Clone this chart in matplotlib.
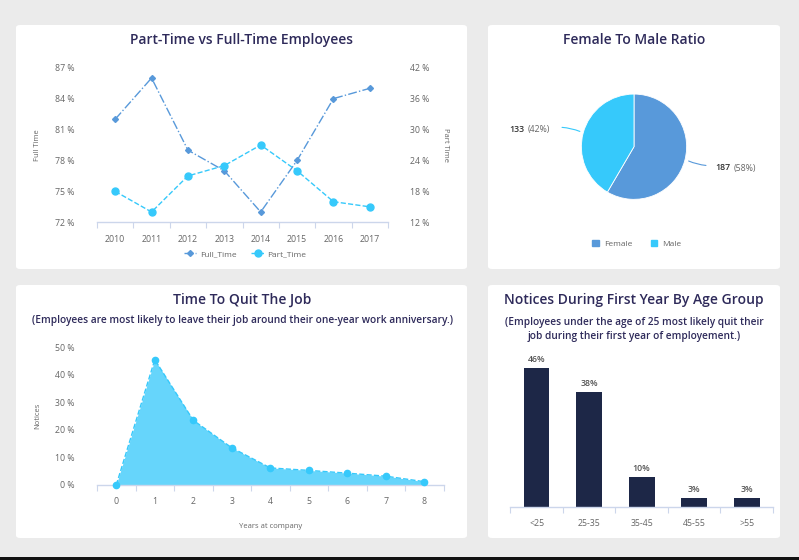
import matplotlib
matplotlib.use("Agg")
import matplotlib.pyplot as plt
from matplotlib.patches import FancyBboxPatch, Rectangle
from matplotlib.lines import Line2D
from matplotlib.ticker import FixedLocator, FuncFormatter
import numpy as np

# %% data
years = ["2010", "2011", "2012", "2013", "2014", "2015", "2016", "2017"]
full_time = [82, 86, 79, 77, 73, 78, 84, 85]
part_time = [18, 14, 21, 23, 27, 22, 16, 15]

gender_labels = ["Female", "Male"]
gender_counts = [187, 133]

quit_years = [0, 1, 2, 3, 4, 5, 6, 7, 8]
quit_notices = [0, 45.5, 23.5, 13.5, 6.2, 5.3, 4.3, 3.2, 1.2]

age_groups = ["<25", "25-35", "35-45", "45-55", ">55"]
age_notices = [46, 38, 10, 3, 3]

# %% style
W, H = 799, 560
BG = "#ebebeb"
TITLE = "#2e2a5a"
TICK = "#666666"
AXLINE = "#ccd6eb"
BLUE = "#5899da"
CYAN = "#36c9fb"
AREA = "#66d5fb"
NAVY = "#1d2747"

plt.rcParams["font.family"] = ["Open Sans", "DejaVu Sans"]


def fx(px):
    return px / W


def fy(py):
    return 1 - py / H


def box(ax_px):
    l, t, r, b = ax_px
    return [fx(l), fy(b), (r - l) / W, (b - t) / H]


fig = plt.figure(figsize=(W / 100, H / 100), dpi=100, facecolor=BG)

# panels, kept behind the axes
for l, t, r, b in [(16, 25, 467, 269), (488, 25, 780, 269),
                   (16, 285, 467, 538), (488, 285, 780, 538)]:
    fig.patches.append(FancyBboxPatch((fx(l), fy(b)), (r - l) / W, (b - t) / H,
                                      boxstyle="round,pad=0,rounding_size=0.005",
                                      transform=fig.transFigure, facecolor="white",
                                      edgecolor="none", zorder=-10))
fig.patches.append(Rectangle((0, 0), 1, 3 / H, transform=fig.transFigure,
                             facecolor="#111111", edgecolor="none", zorder=-10))


def cat_axis(ax, n, labels):
    ax.set_xlim(-0.5, n - 0.5)
    ax.set_xticks(range(n))
    ax.set_xticklabels(labels)
    ax.xaxis.set_minor_locator(FixedLocator(np.arange(-0.5, n, 1.0)))
    ax.tick_params(axis="x", which="major", length=0, pad=9, labelsize=6.3, labelcolor=TICK)
    ax.tick_params(axis="x", which="minor", length=4, width=0.8, color=AXLINE)
    for s in ["top", "right", "left"]:
        ax.spines[s].set_visible(False)
    ax.spines["bottom"].set_color(AXLINE)
    ax.spines["bottom"].set_linewidth(1)
    ax.set_facecolor("none")


def title(x, y, s, size=10):
    fig.text(fx(x), fy(y), s, ha="center", va="center", fontsize=size,
             color=TITLE, fontweight="semibold")


pct = FuncFormatter(lambda v, p: f"{v:.0f} %")

# %% Part-time vs full-time
ax1 = fig.add_axes(box((97, 67.7, 388, 222.3)))
cat_axis(ax1, len(years), years)
x = np.arange(len(years))
ax1.plot(x, full_time, color=BLUE, ls="-.", lw=1, marker="D", ms=3, zorder=3)
ax1.set_ylim(72, 87)
ax1.set_yticks(range(72, 88, 3))
ax1.yaxis.set_major_formatter(pct)
ax1.tick_params(axis="y", length=0, pad=16, labelsize=6.3, labelcolor=TICK)
ax1.set_ylabel("Full Time", fontsize=5.5, color=TICK, labelpad=10)

ax1b = ax1.twinx()
ax1b.plot(x, part_time, color=CYAN, ls="--", lw=1, marker="o", ms=5, zorder=3)
ax1b.set_ylim(12, 42)
ax1b.set_yticks(range(12, 43, 6))
ax1b.yaxis.set_major_formatter(pct)
ax1b.tick_params(axis="y", length=0, pad=16, labelsize=6.3, labelcolor=TICK)
for s in ["top", "right", "left", "bottom"]:
    ax1b.spines[s].set_visible(False)
ax1b.set_ylabel("Part Time", fontsize=5.5, color=TICK, rotation=270, labelpad=14)

title(242, 40, "Part-Time vs Full-Time Employees")
h1 = [Line2D([], [], color=BLUE, ls="-.", lw=1, marker="D", ms=3),
      Line2D([], [], color=CYAN, ls="--", lw=1, marker="o", ms=5)]
fig.legend(h1, ["Full_Time", "Part_Time"], loc="center", ncol=2, frameon=False,
           bbox_to_anchor=(fx(245), fy(254)), fontsize=6, labelcolor=TICK,
           handlelength=1.5, handletextpad=0.4, columnspacing=1.8)

# %% Female to male ratio
axp = fig.add_axes(box((534, 46.7, 734, 246.7)))
axp.pie(gender_counts, colors=[BLUE, CYAN], startangle=90,
        counterclock=False, radius=1,
        wedgeprops=dict(edgecolor="white", linewidth=0.6))
axp.set_xlim(-1.9, 1.9)
axp.set_ylim(-1.9, 1.9)
axp.set_aspect("equal")
axp.axis("off")
total = sum(gender_counts)
axp.annotate("", xy=(0.99, -0.25), xytext=(1.42, -0.36),
             arrowprops=dict(arrowstyle="-", color=BLUE, lw=0.8,
                             connectionstyle="arc3,rad=-0.1"))
axp.annotate("", xy=(-0.98, 0.27), xytext=(-1.42, 0.37),
             arrowprops=dict(arrowstyle="-", color=CYAN, lw=0.8,
                             connectionstyle="arc3,rad=-0.1"))
# "count (share)" labels: count dark, share grey
t_f = fig.text(fx(715.5), fy(168), f"{gender_counts[0]}", fontsize=6.3, color="#333333",
               fontweight="semibold", va="center")
axp.annotate(f"({gender_counts[0] / total:.0%})", xy=(1, 0.5), xycoords=t_f,
             xytext=(2, 0), textcoords="offset points", fontsize=6.3, color=TICK,
             va="center", ha="left")
t_m = fig.text(fx(550), fy(129.5), f"({gender_counts[1] / total:.0%})", fontsize=6.3,
               color=TICK, va="center", ha="right")
axp.annotate(f"{gender_counts[1]}", xy=(0, 0.5), xycoords=t_m,
             xytext=(-2, 0), textcoords="offset points", fontsize=6.3, color="#333333",
             fontweight="semibold", va="center", ha="right")
title(634, 40, "Female To Male Ratio")
h2 = [Rectangle((0, 0), 1, 1, color=BLUE), Rectangle((0, 0), 1, 1, color=CYAN)]
fig.legend(h2, gender_labels, loc="center", ncol=2, frameon=False,
           bbox_to_anchor=(fx(637), fy(244)), fontsize=6, labelcolor=TICK,
           handlelength=0.8, handleheight=0.8, handletextpad=0.6, columnspacing=2.2)

# %% Time to quit
ax3 = fig.add_axes(box((97, 347.3, 443.7, 485)))
cat_axis(ax3, len(quit_years), [str(v) for v in quit_years])
ax3.fill_between(quit_years, quit_notices, 0, color=AREA, lw=0, zorder=2)
ax3.plot(quit_years, quit_notices, color=CYAN, ls="--", lw=1, marker="o", ms=4.5,
         zorder=3, clip_on=False)
ax3.set_ylim(0, 50)
ax3.set_yticks(range(0, 51, 10))
ax3.yaxis.set_major_formatter(pct)
ax3.tick_params(axis="y", length=0, pad=16, labelsize=6.3, labelcolor=TICK)
ax3.set_ylabel("Notices", fontsize=5.5, color=TICK, labelpad=10)
ax3.set_xlabel("Years at company", fontsize=5.5, color=TICK, labelpad=12)
title(242, 300, "Time To Quit The Job")
fig.text(fx(242), fy(320),
         "(Employees are most likely to leave their job around their one-year work anniversary.)",
         ha="center", va="center", fontsize=7.3, color=TITLE, fontweight="semibold")

# %% Notices by age group
ax4 = fig.add_axes(box((510.3, 355.7, 773, 506.7)))
cat_axis(ax4, len(age_groups), age_groups)
ax4.bar(range(len(age_groups)), age_notices, width=0.49, color=NAVY, zorder=2)
for i, v in enumerate(age_notices):
    ax4.text(i, v + 1.2, f"{v}%", ha="center", va="bottom", fontsize=6.3,
             color="#555555", fontweight="semibold")
ax4.set_ylim(0, 50)
ax4.set_yticks([])
title(634, 300, "Notices During First Year By Age Group")
fig.text(fx(634), fy(329.5),
         "(Employees under the age of 25 most likely quit their\njob during their first year of employement.)",
         ha="center", va="center", fontsize=7.3, color=TITLE, fontweight="semibold",
         linespacing=1.45)

fig.savefig("out.png", dpi=100, facecolor=BG)
